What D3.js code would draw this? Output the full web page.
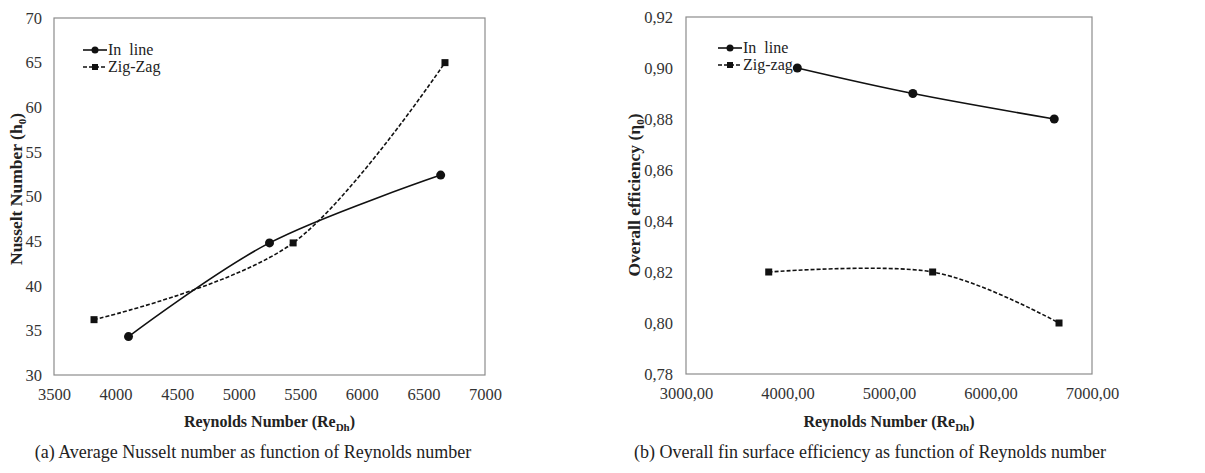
<!DOCTYPE html>
<html>
<head>
<meta charset="utf-8">
<script src="https://cdn.jsdelivr.net/npm/d3@7"></script>
<style>
  body { margin: 0; background: #fff; }
</style>
</head>
<body>
<div id="chart"></div>
<script>
// values
var inLineRe = [4105, 5250, 6640];
var zigZagRe = [3825, 5442, 6675];
var inLineNu = [34.3, 44.8, 52.4];
var zigZagNu = [36.2, 44.8, 65.0];
var inLineRe2 = [4097, 5235, 6628];
var zigZagRe2 = [3815, 5430, 6675];
var inLineEff = [0.90, 0.89, 0.88];
var zigZagEff = [0.82, 0.82, 0.80];

var nuTicks = [30, 35, 40, 45, 50, 55, 60, 65, 70];
var reTicksA = [3500, 4000, 4500, 5000, 5500, 6000, 6500, 7000];
var effTicks = [0.78, 0.80, 0.82, 0.84, 0.86, 0.88, 0.90, 0.92];
var reTicksB = [3000, 4000, 5000, 6000, 7000];

var FONT = "'Liberation Serif', 'DejaVu Serif', serif";

var svg = d3.select("#chart").append("svg")
    .attr("width", 1205)
    .attr("height", 473)
    .style("font-family", FONT);

var comma = function (d, n) { return d.toFixed(n).replace(".", ","); };

function drawPanel(opt) {
    var x = d3.scaleLinear().domain(opt.xDomain).range([opt.left, opt.right]);
    var y = d3.scaleLinear().domain(opt.yDomain).range([opt.bottom, opt.top]);
    var g = svg.append("g");

    g.append("rect")
        .attr("x", opt.left).attr("y", opt.top)
        .attr("width", opt.right - opt.left)
        .attr("height", opt.bottom - opt.top)
        .attr("fill", "none")
        .attr("stroke", "#8c8c8c")
        .attr("stroke-width", 1.2);

    // y ticks
    var yAx = g.append("g")
        .attr("transform", `translate(${opt.left},0)`)
        .call(d3.axisLeft(y).tickValues(opt.yTicks).tickSize(0).tickPadding(opt.yPad).tickFormat(opt.yFmt));
    yAx.attr("font-family", null).attr("font-size", null);
    yAx.select(".domain").remove();
    yAx.selectAll("text").style("font-family", FONT).style("font-size", "16.5px").attr("fill", "#333");

    // x ticks
    var xAx = g.append("g")
        .attr("transform", `translate(0,${opt.bottom})`)
        .call(d3.axisBottom(x).tickValues(opt.xTicks).tickSize(0).tickPadding(13).tickFormat(opt.xFmt));
    xAx.attr("font-family", null).attr("font-size", null);
    xAx.select(".domain").remove();
    xAx.selectAll("text").style("font-family", FONT).style("font-size", "16.5px").attr("fill", "#333");

    // axis titles
    var xt = g.append("text")
        .attr("x", (opt.left + opt.right) / 2)
        .attr("y", 427)
        .attr("text-anchor", "middle")
        .style("font-family", FONT)
        .style("font-size", "16px")
        .style("font-weight", "bold")
        .attr("fill", "#222");
    xt.append("tspan").text("Reynolds Number (Re");
    xt.append("tspan").attr("dy", 4).style("font-size", "11px").text("Dh");
    xt.append("tspan").attr("dy", -4).text(")");

    var yt = g.append("text")
        .attr("transform", `translate(${opt.yTitleX},${opt.yTitleY}) rotate(-90)`)
        .attr("text-anchor", "middle")
        .style("font-family", FONT)
        .style("font-size", "17.5px")
        .style("font-weight", "bold")
        .attr("fill", "#222");
    yt.append("tspan").text(opt.yTitle + " (" + opt.yVar);
    yt.append("tspan").attr("dy", 4).style("font-size", "11px").text("0");
    yt.append("tspan").attr("dy", -4).text(")");

    // series
    var curve = d3.line()
        .x(function (d) { return x(d[0]); })
        .y(function (d) { return y(d[1]); })
        .curve(d3.curveCardinal.tension(0));

    var s1 = d3.zip(opt.inX, opt.inY);
    var s2 = d3.zip(opt.zzX, opt.zzY);

    g.append("path").attr("d", curve(s1))
        .attr("fill", "none").attr("stroke", "#111").attr("stroke-width", 1.6);
    g.append("path").attr("d", curve(s2))
        .attr("fill", "none").attr("stroke", "#111").attr("stroke-width", 1.6)
        .attr("stroke-dasharray", "4,2");

    g.selectAll(".dot").data(s1).join("circle")
        .attr("cx", function (d) { return x(d[0]); })
        .attr("cy", function (d) { return y(d[1]); })
        .attr("r", 4.5).attr("fill", "#111");
    g.selectAll(".sq").data(s2).join("rect")
        .attr("x", function (d) { return x(d[0]) - 3.5; })
        .attr("y", function (d) { return y(d[1]) - 3.5; })
        .attr("width", 7).attr("height", 7).attr("fill", "#111");

    // legend
    var lx = opt.legX, ly = opt.legY;
    g.append("line").attr("x1", lx).attr("x2", lx + 24).attr("y1", ly).attr("y2", ly)
        .attr("stroke", "#111").attr("stroke-width", 1.6);
    g.append("circle").attr("cx", lx + 12).attr("cy", ly).attr("r", 3.5).attr("fill", "#111");
    g.append("line").attr("x1", lx).attr("x2", lx + 24).attr("y1", ly + 17).attr("y2", ly + 17)
        .attr("stroke", "#111").attr("stroke-width", 1.6).attr("stroke-dasharray", "4,2");
    g.append("rect").attr("x", lx + 9).attr("y", ly + 14).attr("width", 6).attr("height", 6).attr("fill", "#111");
    g.append("text").attr("x", lx + 25).attr("y", ly + 5)
        .style("font-family", FONT).style("font-size", "16px").attr("fill", "#222")
        .style("white-space", "pre").text("In  line");
    g.append("text").attr("x", lx + 25).attr("y", ly + 22)
        .style("font-family", FONT).style("font-size", "16px").attr("fill", "#222")
        .text(opt.zzName);

    // caption
    g.append("text")
        .attr("x", opt.capX).attr("y", 458)
        .attr("text-anchor", "middle")
        .style("font-family", FONT)
        .style("font-size", "18px")
        .attr("fill", "#222")
        .text(opt.caption);
}

drawPanel({
    left: 54, right: 485, top: 18, bottom: 375,
    xDomain: [3500, 7000], yDomain: [30, 70],
    xTicks: reTicksA, yTicks: nuTicks,
    xFmt: function (d) { return d; }, yFmt: function (d) { return d; },
    yPad: 12,
    inX: inLineRe, inY: inLineNu, zzX: zigZagRe, zzY: zigZagNu,
    yTitle: "Nusselt Number", yVar: "h", yTitleX: 22, yTitleY: 189,
    legX: 83, legY: 50, zzName: "Zig-Zag",
    capX: 253, caption: "(a) Average Nusselt number as function of Reynolds number"
});

drawPanel({
    left: 686, right: 1092, top: 17, bottom: 374,
    xDomain: [3000, 7000], yDomain: [0.78, 0.92],
    xTicks: reTicksB, yTicks: effTicks,
    xFmt: function (d) { return comma(d, 2); }, yFmt: function (d) { return comma(d, 2); },
    yPad: 13,
    inX: inLineRe2, inY: inLineEff, zzX: zigZagRe2, zzY: zigZagEff,
    yTitle: "Overall efficiency", yVar: "η", yTitleX: 640, yTitleY: 195,
    legX: 718, legY: 48, zzName: "Zig-zag",
    capX: 870, caption: "(b) Overall fin surface efficiency as function of Reynolds number"
});
</script>
</body>
</html>
